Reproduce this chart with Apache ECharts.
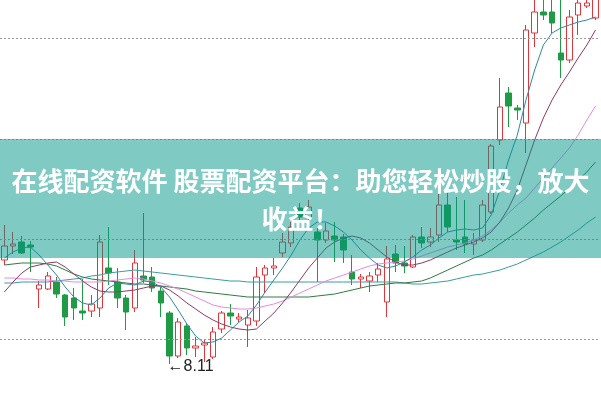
<!DOCTYPE html>
<html>
<head>
<meta charset="utf-8">
<script src="https://cdn.jsdelivr.net/npm/echarts@6/dist/echarts.min.js"></script>
<style>
html, body { margin: 0; padding: 0; background: #fff; }
#chart { width: 601px; height: 399px; }
</style>
</head>
<body>
<div id="chart"></div>
<script>
// daily k-line values
var openVals = [9.15, 9.29, 9.33, 9.30, 8.86, 8.86, 8.93, 8.80, 8.77, 8.64,
  8.64, 8.67, 9.07, 8.93, 8.77, 8.67, 8.99, 8.98, 8.84, 8.62,
  8.19, 8.49, 8.27, 8.30, 8.18, 8.46, 8.62, 8.56, 8.50, 8.54,
  9.00, 9.07, 9.22, 9.32, 9.67, 9.57, 9.43, 9.35, 9.39, 9.38,
  9.03, 8.96, 8.94, 9.00, 8.73, 9.21, 9.12, 9.08, 9.38, 9.33,
  9.40, 9.70, 9.35, 9.38, 9.31, 9.35, 9.63, 10.35, 10.82, 10.67,
  10.52, 11.42, 11.63, 11.63, 11.22, 11.15, 11.60, 11.69, 11.57]
var closeVals = [9.29, 9.31, 9.22, 9.28, 8.90, 8.99, 8.81, 8.58, 8.67, 8.62,
  8.71, 9.33, 9.02, 8.77, 8.63, 9.12, 8.95, 8.87, 8.72, 8.19,
  8.53, 8.27, 8.29, 8.32, 8.43, 8.62, 8.59, 8.58, 8.57, 8.98,
  9.07, 9.09, 9.33, 9.48, 9.58, 9.68, 9.35, 9.44, 9.35, 9.25,
  8.96, 8.98, 8.99, 9.06, 9.16, 9.12, 9.09, 9.38, 9.32, 9.38,
  9.70, 9.48, 9.33, 9.31, 9.35, 9.70, 10.29, 10.68, 10.69, 10.65,
  11.45, 11.63, 11.60, 11.52, 11.15, 11.58, 11.72, 11.72, 11.80]
var lowVals = [9.10, 9.21, 9.21, 9.03, 8.67, 8.85, 8.77, 8.49, 8.55, 8.55,
  8.58, 8.58, 8.90, 8.67, 8.45, 8.63, 8.92, 8.83, 8.58, 8.11,
  8.17, 8.20, 8.18, 8.13, 8.16, 8.42, 8.50, 8.52, 8.28, 8.49,
  8.82, 9.00, 9.18, 9.28, 9.53, 9.53, 8.93, 9.32, 9.13, 9.12,
  8.90, 8.87, 8.83, 8.93, 8.58, 9.03, 9.02, 9.07, 9.27, 9.28,
  9.33, 9.43, 9.25, 9.22, 9.20, 9.33, 9.61, 10.30, 10.48, 10.55,
  10.22, 11.28, 11.55, 11.42, 10.97, 11.12, 11.40, 11.67, 11.55]
var highVals = [9.50, 9.43, 9.39, 9.34, 8.94, 9.03, 8.98, 8.81, 8.87, 8.96,
  8.80, 9.40, 9.48, 9.07, 8.80, 9.25, 9.62, 9.08, 8.88, 8.64,
  8.57, 8.52, 8.38, 8.35, 8.48, 8.64, 8.71, 8.62, 8.65, 9.08,
  9.10, 9.17, 9.42, 9.53, 9.72, 9.75, 9.47, 9.52, 9.53, 9.41,
  9.20, 9.01, 9.03, 9.12, 9.29, 9.30, 9.29, 9.40, 9.48, 9.47,
  9.83, 9.82, 9.78, 9.75, 9.42, 9.75, 10.31, 10.97, 10.88, 10.70,
  11.50, 11.80, 11.78, 11.77, 11.85, 11.65, 11.80, 11.77, 11.85]

// moving average lines, as drawn
var ma5 = [9.17, 9.23, 9.27, 9.28, 9.20, 9.10, 9.00, 8.88, 8.78, 8.72,
  8.70, 8.77, 8.87, 8.92, 8.91, 8.90, 8.94, 8.93, 8.88, 8.78,
  8.65, 8.51, 8.39, 8.32, 8.33, 8.37, 8.45, 8.53, 8.59, 8.70,
  8.83, 8.95, 9.07, 9.20, 9.35, 9.47, 9.53, 9.53, 9.49, 9.43,
  9.35, 9.25, 9.17, 9.10, 9.07, 9.09, 9.13, 9.18, 9.25, 9.30,
  9.37, 9.43, 9.45, 9.46, 9.45, 9.47, 9.60, 9.85, 10.15, 10.40,
  10.75, 11.05, 11.30, 11.42, 11.47, 11.50, 11.53, 11.55, 11.58]
var ma10 = [8.83, 8.93, 9.02, 9.08, 9.10, 9.12, 9.13, 9.08, 9.01, 8.94,
  8.88, 8.84, 8.83, 8.83, 8.84, 8.85, 8.87, 8.89, 8.89, 8.85,
  8.79, 8.72, 8.66, 8.60, 8.55, 8.51, 8.48, 8.46, 8.45, 8.46,
  8.54, 8.62, 8.72, 8.83, 8.95, 9.07, 9.17, 9.27, 9.33, 9.37,
  9.39, 9.37, 9.32, 9.25, 9.18, 9.13, 9.10, 9.10, 9.12, 9.15,
  9.19, 9.23, 9.27, 9.30, 9.33, 9.37, 9.43, 9.53, 9.67, 9.85,
  10.10, 10.35, 10.57, 10.75, 10.90, 11.03, 11.17, 11.30, 11.45]
var ma20 = [8.97, 8.97, 8.96, 8.96, 8.95, 8.95, 8.94, 8.94, 8.93, 8.93,
  8.93, 8.93, 8.94, 8.95, 8.96, 8.97, 8.96, 8.94, 8.92, 8.89,
  8.86, 8.82, 8.78, 8.74, 8.70, 8.68, 8.67, 8.66, 8.66, 8.67,
  8.69, 8.71, 8.74, 8.78, 8.82, 8.86, 8.90, 8.94, 8.97, 9.00,
  9.03, 9.06, 9.09, 9.11, 9.12, 9.13, 9.14, 9.16, 9.19, 9.22,
  9.25, 9.28, 9.30, 9.32, 9.35, 9.39, 9.45, 9.53, 9.62, 9.70,
  9.77, 9.87, 9.97, 10.07, 10.17, 10.27, 10.40, 10.55, 10.69]
var ma30 = [9.10, 9.11, 9.12, 9.12, 9.12, 9.11, 9.09, 9.05, 9.01, 8.98,
  8.96, 8.95, 8.94, 8.93, 8.92, 8.91, 8.91, 8.90, 8.89, 8.88,
  8.87, 8.86, 8.84, 8.83, 8.82, 8.81, 8.80, 8.79, 8.78, 8.78,
  8.78, 8.78, 8.78, 8.78, 8.78, 8.78, 8.79, 8.80, 8.81, 8.83,
  8.85, 8.87, 8.89, 8.90, 8.91, 8.92, 8.92, 8.93, 8.94, 8.97,
  9.01, 9.05, 9.09, 9.13, 9.17, 9.20, 9.25, 9.31, 9.37, 9.43,
  9.50, 9.57, 9.65, 9.72, 9.79, 9.87, 9.95, 10.03, 10.13]
var ma60 = [8.92, 8.92, 8.93, 8.93, 8.93, 8.93, 8.94, 8.95, 8.96, 8.97,
  8.99, 9.00, 9.02, 9.03, 9.04, 9.05, 9.04, 9.03, 9.02, 9.01,
  9.00, 8.99, 8.98, 8.97, 8.96, 8.95, 8.94, 8.94, 8.93, 8.93,
  8.93, 8.93, 8.93, 8.93, 8.93, 8.93, 8.93, 8.93, 8.93, 8.93,
  8.93, 8.93, 8.93, 8.93, 8.93, 8.93, 8.92, 8.91, 8.91, 8.92,
  8.93, 8.94, 8.96, 8.98, 9.00, 9.01, 9.03, 9.05, 9.08, 9.11,
  9.15, 9.19, 9.23, 9.28, 9.33, 9.39, 9.45, 9.52, 9.58]

// dotted reference levels
var gridLevels = [11.365, 10.36, 9.36, 8.36]
var lowIndex = 19

var bannerText = '在线配资软件 股票配资平台：助您轻松炒股，放大\n收益！'

var chart = echarts.init(document.getElementById('chart'))

var kData = openVals.map(function(o, i) {
  return [o, closeVals[i], lowVals[i], highVals[i]]
})
var days = openVals.map(function(o, i) { return String(i + 1) })

function maLine(name, data, color) {
  return {
    name: name,
    type: 'line',
    data: data,
    showSymbol: false,
    symbol: 'none',
    silent: true,
    lineStyle: { color: color, width: 1 },
    z: 3
  }
}

chart.setOption({
  animation: false,
  backgroundColor: '#fff',
  grid: { left: -3.875, right: 1.125, top: 0, bottom: 0 },
  xAxis: {
    type: 'category',
    data: days,
    boundaryGap: true,
    show: false
  },
  yAxis: {
    type: 'value',
    min: 7.76,
    max: 11.75,
    show: false,
    splitLine: { show: false }
  },
  series: [
    {
      type: 'candlestick',
      data: kData,
      barWidth: 6,
      itemStyle: {
        color: '#ffffff',
        color0: '#1f9a45',
        borderColor: '#e0363b',
        borderColor0: '#1f9a45',
        borderWidth: 1
      },
      markLine: {
        silent: true,
        symbol: ['none', 'none'],
        label: { show: false },
        lineStyle: { color: '#9a9a9a', type: [2, 2], width: 1 },
        data: gridLevels.map(function(v) { return { yAxis: v } })
      },
      markPoint: {
        silent: true,
        symbol: 'rect',
        symbolSize: [0.1, 0.1],
        label: {
          show: true,
          position: 'right',
          distance: 0,
          offset: [-2, 3],
          color: '#222',
          fontSize: 16,
          fontFamily: 'Liberation Sans',
          formatter: function(p) { return '←' + p.value.toFixed(2) }
        },
        data: [{ coord: [lowIndex, lowVals[lowIndex]], value: lowVals[lowIndex] }]
      },
      z: 2
    },
    maLine('MA60', ma60, '#3a9d9f'),
    maLine('MA30', ma30, '#2f7a44'),
    maLine('MA20', ma20, '#e48be4'),
    maLine('MA10', ma10, '#8e3a66'),
    maLine('MA5', ma5, '#2f8aa0')
  ],
  graphic: [
    {
      type: 'rect',
      z: 100,
      silent: true,
      shape: { x: 0, y: 139, width: 601, height: 119 },
      style: { fill: 'rgba(0,150,136,0.5)' }
    },
    {
      type: 'text',
      z: 101,
      silent: true,
      x: 300.5,
      y: 200,
      style: {
        text: bannerText,
        fill: '#ffffff',
        font: 'bold 26px "Noto Sans CJK SC"',
        lineHeight: 38,
        align: 'center',
        verticalAlign: 'middle'
      }
    }
  ]
})
</script>
</body>
</html>
